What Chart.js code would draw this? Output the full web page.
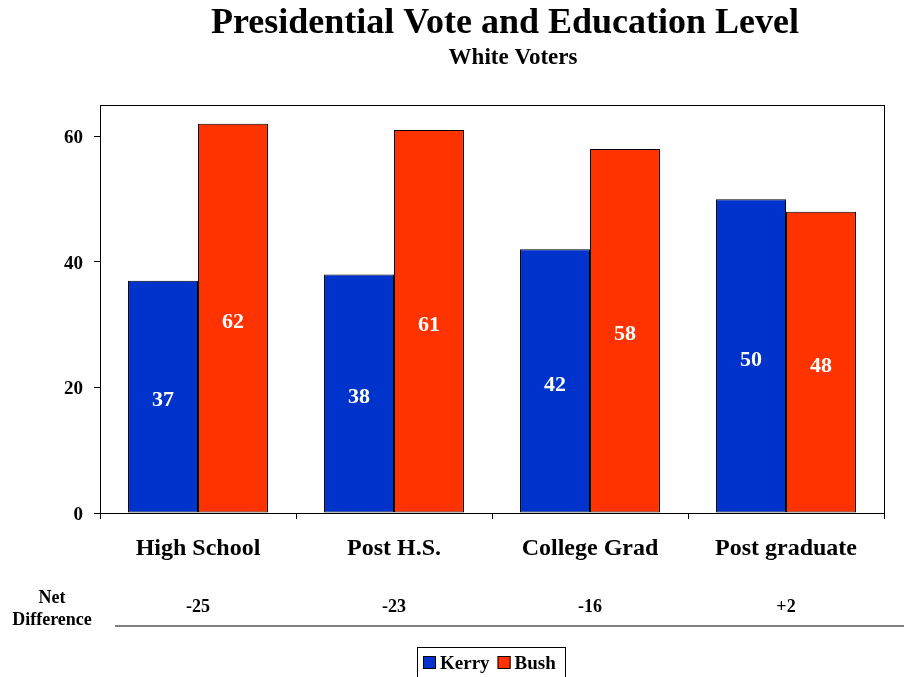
<!DOCTYPE html>
<html>
<head>
<meta charset="utf-8">
<script src="https://cdn.jsdelivr.net/npm/chart.js@4.4.0/dist/chart.umd.min.js"></script>
<style>
  html, body { margin: 0; padding: 0; background: #fff; }
  canvas { display: block; }
</style>
</head>
<body>
<canvas id="chart" width="904" height="677"></canvas>
<script>
// ===== DATA =====
const categories = ['High School', 'Post H.S.', 'College Grad', 'Post graduate'];
const kerry      = [37, 38, 42, 50];
const bush       = [62, 61, 58, 48];
const netDiff    = ['-25', '-23', '-16', '+2'];
const yTicks     = [0, 20, 40, 60];

const FONT = '"Liberation Serif", "Times New Roman", serif';

// title + subtitle
const titlePlugin = {
  id: 'titleText',
  afterDraw(chart) {
    const c = chart.ctx;
    c.save();
    c.fillStyle = '#000';
    c.textAlign = 'center';
    c.textBaseline = 'middle';
    c.font = 'bold 36px ' + FONT;
    c.fillText('Presidential Vote and Education Level', 505, 24);
    c.font = 'bold 23px ' + FONT;
    c.fillText('White Voters', 513, 58);
    c.restore();
  }
};

// box around plot area
const frame = {
  id: 'frame',
  afterDatasetsDraw(chart) {
    const a = chart.chartArea, c = chart.ctx;
    c.save();
    c.strokeStyle = '#000';
    c.lineWidth = 1;
    c.strokeRect(a.left + 0.5, a.top + 0.5, a.right - a.left, a.bottom - a.top);
    c.restore();
  }
};

// white numbers in the middle of each bar
const barLabels = {
  id: 'barLabels',
  afterDatasetsDraw(chart) {
    const c = chart.ctx;
    c.save();
    c.fillStyle = '#fff';
    c.textAlign = 'center';
    c.textBaseline = 'middle';
    c.font = 'bold 22px ' + FONT;
    chart.data.datasets.forEach(function (ds, i) {
      chart.getDatasetMeta(i).data.forEach(function (bar, j) {
        c.fillText(ds.data[j], bar.x, (bar.y + bar.base) / 2 + 4);
      });
    });
    c.restore();
  }
};

// net difference row + custom legend
const extras = {
  id: 'extras',
  afterDraw(chart) {
    const c = chart.ctx, xs = chart.scales.x;
    c.save();
    c.fillStyle = '#000';
    c.textAlign = 'center';
    c.textBaseline = 'middle';
    c.font = 'bold 18px ' + FONT;
    c.fillText('Net', 52, 598);
    c.fillText('Difference', 52, 620);
    netDiff.forEach(function (v, i) {
      c.fillText(v, xs.getPixelForValue(i), 607);
    });
    c.strokeStyle = '#808080';
    c.lineWidth = 2;
    c.beginPath();
    c.moveTo(115, 626);
    c.lineTo(904, 626);
    c.stroke();

    // legend
    c.strokeStyle = '#000';
    c.lineWidth = 1;
    c.strokeRect(417.5, 647.5, 148, 40);
    c.font = 'bold 19px ' + FONT;
    c.textAlign = 'left';
    let x = 423;
    chart.data.datasets.forEach(function (ds) {
      c.fillStyle = ds.backgroundColor;
      c.fillRect(x, 656, 13, 13);
      c.strokeRect(x + 0.5, 656.5, 12, 12);
      c.fillStyle = '#000';
      c.fillText(ds.label, x + 17, 664);
      x += 17 + c.measureText(ds.label).width + 8;
    });
    c.restore();
  }
};

new Chart(document.getElementById('chart'), {
  type: 'bar',
  data: {
    labels: categories,
    datasets: [
      { label: 'Kerry', data: kerry, backgroundColor: '#0033CC', borderColor: '#000', borderWidth: 1, borderSkipped: false },
      { label: 'Bush',  data: bush,  backgroundColor: '#FF3300', borderColor: '#000', borderWidth: 1, borderSkipped: false }
    ]
  },
  options: {
    responsive: false,
    animation: false,
    layout: { padding: { top: 105, left: 0, right: 20, bottom: 0 } },
    datasets: { bar: { categoryPercentage: 0.714, barPercentage: 1 } },
    plugins: { legend: { display: false }, tooltip: { enabled: false } },
    scales: {
      x: {
        afterFit(s) { s.height = 164; },
        grid: { drawOnChartArea: false, drawTicks: true, tickLength: 6, tickColor: '#000', offset: true },
        border: { color: '#000' },
        ticks: { color: '#000', padding: 15, font: { family: FONT, size: 24, weight: 'bold' } }
      },
      y: {
        min: 0,
        max: 65,
        afterFit(s) { s.width = 100; },
        afterBuildTicks(s) { s.ticks = yTicks.map(v => ({ value: v })); },
        grid: { drawOnChartArea: false, drawTicks: true, tickLength: 6, tickColor: '#000' },
        border: { color: '#000' },
        ticks: { color: '#000', padding: 11, labelOffset: 2, font: { family: FONT, size: 19, weight: 'bold' } }
      }
    }
  },
  plugins: [titlePlugin, frame, barLabels, extras]
});
</script>
</body>
</html>
